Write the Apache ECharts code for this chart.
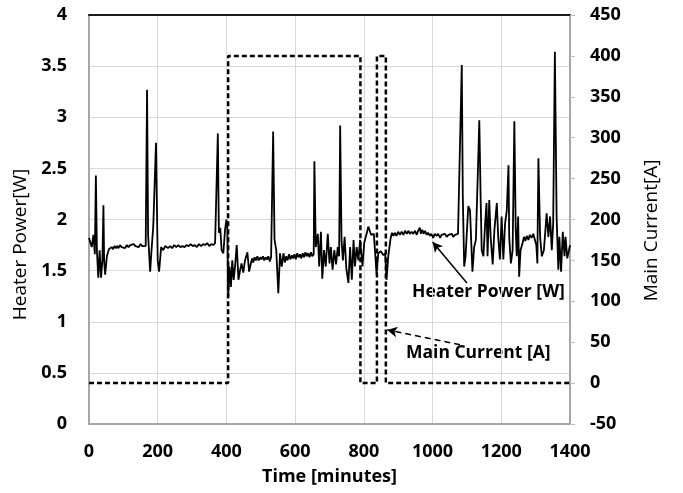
<!DOCTYPE html>
<html>
<head>
<meta charset="utf-8">
<script src="https://cdn.jsdelivr.net/npm/echarts@6/dist/echarts.min.js"></script>
<style>
  html, body { margin: 0; padding: 0; background: #fff; }
  #chart { width: 683px; height: 493px; }
</style>
</head>
<body>
<div id="chart"></div>
<script>
// heater power
var powerTime = [0, 3, 8, 13, 17, 20, 23, 27, 31, 35, 39, 42, 44, 47, 52, 58,
  62, 66, 70, 74, 78, 82, 86, 90, 95, 100, 105, 110, 115, 120, 125, 130, 135, 140, 145, 150, 155, 160, 165,
  169, 172, 178, 182, 187, 195, 200, 204, 210, 216, 222,
  230, 236, 242, 248, 254, 260, 266, 272, 278, 284, 290, 296, 302, 308, 314, 320, 326, 332, 338, 344, 350, 356, 362, 367,
  371, 375, 378, 382, 386, 391, 396, 400, 403,
  405, 409, 413, 417, 421, 425, 430, 435, 440, 444, 449, 454, 461, 466,
  471, 475, 478, 482, 486, 490, 494, 498, 502, 506, 510, 514, 518, 522, 526, 530, 533,
  536, 540, 545, 551,
  556, 561, 566, 570, 574, 578, 582, 586, 590, 594, 598, 602, 606, 610, 614, 618, 622, 626, 630, 634, 638, 642, 646, 650, 654,
  656, 660, 666, 670, 675, 679, 684, 689, 695, 700, 704, 709, 714, 719, 724, 728,
  731, 735, 739, 744, 749, 755, 760, 765, 770, 774, 779, 784, 789, 796, 801, 808, 813, 821, 829, 833,
  837, 842, 849, 857, 862, 866, 871,
  878, 882, 886, 890, 895, 900, 905, 910, 915, 920, 925, 930, 934, 939, 944, 949, 954, 958, 963, 966, 970, 974, 978, 983, 987, 992, 996,
  1002, 1006, 1012, 1016, 1022, 1026, 1031, 1036, 1041, 1046, 1051, 1056, 1060, 1065, 1070, 1074, 1078,
  1085, 1088, 1092, 1096, 1099, 1104, 1109, 1112, 1116, 1121, 1126, 1133, 1136, 1140, 1143, 1148, 1153, 1157, 1160,
  1165, 1169, 1175, 1180, 1187, 1191, 1196, 1201, 1206, 1211, 1216, 1221, 1223, 1228, 1233, 1238, 1242, 1245, 1249,
  1252, 1256, 1262, 1266, 1270, 1274, 1279, 1283, 1288, 1293, 1298, 1302, 1305, 1308, 1313, 1318, 1324, 1332, 1337, 1342, 1347, 1351,
  1356, 1361, 1366, 1369, 1374, 1379, 1384, 1387, 1392, 1397, 1400];
var powerValue = [1.82, 1.82, 1.73, 1.85, 1.66, 2.43, 1.70, 1.43, 1.70, 1.43, 1.60, 2.14, 1.60, 1.46, 1.64, 1.71,
  1.70, 1.73, 1.71, 1.74, 1.72, 1.74, 1.72, 1.75, 1.73, 1.74, 1.72, 1.75, 1.73, 1.75, 1.74, 1.76, 1.74, 1.75, 1.73, 1.76, 1.74, 1.75, 1.74,
  3.27, 1.85, 1.49, 1.70, 1.93, 2.75, 1.60, 1.49, 1.73, 1.70, 1.74,
  1.72, 1.74, 1.72, 1.75, 1.73, 1.75, 1.73, 1.74, 1.73, 1.75, 1.74, 1.76, 1.74, 1.75, 1.73, 1.76, 1.74, 1.76, 1.75, 1.77, 1.74, 1.76, 1.75, 1.77,
  1.76, 2.84, 1.87, 1.92, 1.70, 1.67, 1.90, 2.00, 1.90,
  1.23, 1.54, 1.34, 1.60, 1.41, 1.54, 1.75, 1.41, 1.51, 1.57, 1.48, 1.60, 1.68, 1.49,
  1.57, 1.62, 1.58, 1.63, 1.60, 1.64, 1.60, 1.63, 1.61, 1.64, 1.60, 1.63, 1.61, 1.64, 1.59, 1.63, 1.64,
  2.86, 1.80, 1.70, 1.28,
  1.67, 1.54, 1.67, 1.58, 1.64, 1.60, 1.66, 1.61, 1.65, 1.62, 1.66, 1.61, 1.67, 1.63, 1.66, 1.62, 1.67, 1.63, 1.68, 1.64, 1.67, 1.63, 1.68, 1.64, 1.66,
  2.57, 1.73, 1.86, 1.54, 1.88, 1.42, 1.70, 1.54, 1.86, 1.57, 1.73, 1.51, 1.70, 1.56, 1.73, 1.64,
  2.92, 1.80, 1.60, 1.83, 1.52, 1.38, 1.73, 1.41, 1.80, 1.54, 1.73, 1.60, 1.80, 1.54, 1.77, 1.86, 1.93, 1.85, 1.86, 1.86,
  1.47, 1.67, 1.69, 1.65, 1.67, 1.41, 1.64,
  1.82, 1.87, 1.84, 1.87, 1.84, 1.88, 1.85, 1.88, 1.85, 1.89, 1.86, 1.89, 1.86, 1.88, 1.86, 1.89, 1.85, 1.89, 1.92, 1.86, 1.90, 1.86, 1.89, 1.85, 1.87, 1.84, 1.86,
  1.82, 1.86, 1.84, 1.86, 1.82, 1.85, 1.84, 1.86, 1.83, 1.85, 1.84, 1.86, 1.83, 1.85, 1.84, 1.86, 1.85,
  3.51, 2.22, 1.54, 1.64, 1.83, 2.13, 2.09, 1.83, 1.49, 1.73, 1.80, 2.60, 2.97, 2.19, 1.70, 1.64, 1.96, 2.16, 1.64,
  2.19, 1.83, 1.56, 1.90, 2.16, 1.83, 1.61, 2.03, 1.61, 1.96, 2.09, 2.53, 1.83, 1.57, 1.70, 2.96, 1.90, 1.64, 2.03,
  1.44, 1.70, 1.77, 1.83, 1.79, 1.84, 1.80, 1.85, 1.82, 1.86, 1.80, 1.75, 1.57, 2.60, 1.83, 1.64, 1.70, 2.06, 1.83, 2.03, 1.70, 1.96,
  3.64, 2.03, 1.51, 1.83, 1.49, 1.88, 1.64, 1.83, 1.62, 1.70, 1.75];

// main current (square steps)
var currentTime = [0, 405, 405, 790, 790, 838, 838, 864, 864, 1400];
var currentValue = [0, 0, 400, 400, 0, 0, 400, 400, 0, 0];

var xTicks = [0, 1400, 200];
var powerTicks = [0, 4, 0.5];
var currentTicks = [-50, 450, 50];

var powerData = [];
for (var i = 0; i < powerTime.length; i++) {
  powerData.push([powerTime[i], powerValue[i]]);
}
var currentData = [];
for (var j = 0; j < currentTime.length; j++) {
  currentData.push([currentTime[j], currentValue[j]]);
}

var labelFont = { color: '#000', fontSize: 18, fontWeight: 'bold', fontFamily: 'Open Sans' };
var grayLine = { color: '#a6a6a6', width: 2 };
function plain(v) { return String(v); }

var chart = echarts.init(document.getElementById('chart'));
var option = {
  animation: false,
  grid: { left: 89, right: 113, top: 15, bottom: 69 },
  xAxis: [
    {
      type: 'value', min: xTicks[0], max: xTicks[1], interval: xTicks[2],
      name: 'Time [minutes]', nameLocation: 'middle', nameGap: 44,
      nameTextStyle: { color: '#000', fontSize: 18, fontWeight: 'bold', fontFamily: 'Open Sans' },
      axisLine: { onZero: false, lineStyle: grayLine },
      axisTick: { show: false },
      axisLabel: Object.assign({ margin: 19, formatter: plain }, labelFont),
      splitLine: { lineStyle: { color: '#d9d9d9', width: 1 } }
    },
    {
      // top border of the plot
      type: 'value', position: 'top', min: xTicks[0], max: xTicks[1],
      axisLine: { show: true, onZero: false, lineStyle: { color: '#1a1a1a', width: 2 } },
      axisTick: { show: false }, axisLabel: { show: false }, splitLine: { show: false }
    }
  ],
  yAxis: [
    {
      type: 'value', min: powerTicks[0], max: powerTicks[1], interval: powerTicks[2],
      name: 'Heater Power[W]', nameLocation: 'middle', nameGap: 56, nameRotate: 90,
      nameTextStyle: { color: '#000', fontSize: 19, fontFamily: 'Open Sans', padding: [0, 50, 0, 0] },
      axisLine: { show: true, onZero: false, lineStyle: grayLine },
      axisTick: { show: false },
      axisLabel: Object.assign({ margin: 22, formatter: plain }, labelFont),
      splitLine: { lineStyle: { color: '#d9d9d9', width: 1 } }
    },
    {
      type: 'value', position: 'right', min: currentTicks[0], max: currentTicks[1], interval: currentTicks[2],
      name: 'Main Current[A]', nameLocation: 'middle', nameGap: 72, nameRotate: 90,
      nameTextStyle: { color: '#000', fontSize: 19, fontFamily: 'Open Sans', padding: [0, 22, 0, 0] },
      axisLine: { show: true, onZero: false, lineStyle: grayLine },
      axisTick: { show: true, length: 5, lineStyle: { color: '#bfbfbf', width: 1 } },
      axisLabel: Object.assign({ margin: 20, formatter: plain }, labelFont),
      splitLine: { show: false }
    }
  ],
  series: [
    {
      name: 'Main Current [A]', type: 'line', yAxisIndex: 1, data: currentData,
      showSymbol: false, silent: true,
      lineStyle: { color: '#000', width: 2.5, type: [5, 3] },
      markLine: {
        silent: true, symbol: ['none', 'arrow'], symbolSize: [8, 10],
        label: { show: false },
        lineStyle: { color: '#000', width: 1.5, type: [6, 4] },
        data: [[{ coord: [1080, 47] }, { coord: [868, 65] }]]
      }
    },
    {
      name: 'Heater Power [W]', type: 'line', yAxisIndex: 0, data: powerData,
      showSymbol: false, silent: true,
      lineStyle: { color: '#000', width: 1.8 },
      markLine: {
        silent: true, symbol: ['none', 'arrow'], symbolSize: [8, 10],
        label: { show: false },
        lineStyle: { color: '#000', width: 1.5, type: 'solid' },
        data: [[{ coord: [1100, 1.38] }, { coord: [1000, 1.78] }]]
      }
    }
  ],
  graphic: [
    {
      type: 'text', left: 412, top: 283,
      style: { text: 'Heater Power [W]', fill: '#000', font: 'bold 17.5px "Open Sans"' }
    },
    {
      type: 'text', left: 406, top: 344,
      style: { text: 'Main Current [A]', fill: '#000', font: 'bold 17.5px "Open Sans"' }
    }
  ]
};
chart.setOption(option);
</script>
</body>
</html>
